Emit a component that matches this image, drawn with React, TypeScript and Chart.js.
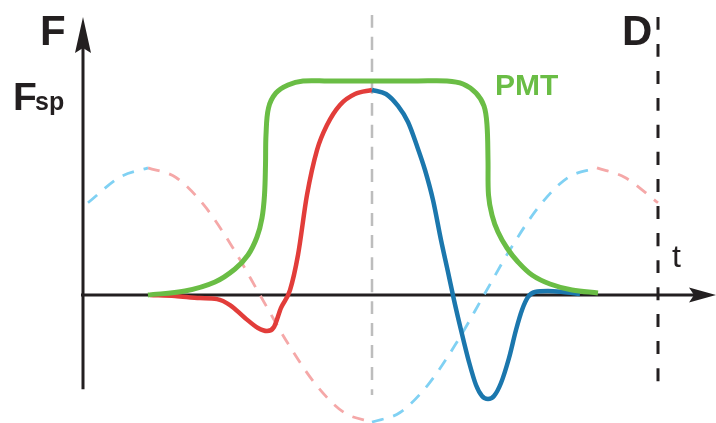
import { useEffect, useRef } from "react";
import { Chart, registerables } from "chart.js";

Chart.register(...registerables);

// time axis (arbitrary units) and signal amplitude (normalised to Fsp = 1)
const T_MIN = -8.3;
const T_MAX = 63.3;
const F_MIN = -0.6244;
const F_MAX = 1.439;

// PMT gate response (green)
const pmtT = [6.5, 10.2, 13.2, 15.2, 16.5, 17.4, 17.9, 18.15, 18.25, 18.3, 18.55, 19.3, 20.5, 22.0, 24.5, 29.0, 33.5, 36.4, 38.0, 39.3, 40.1, 40.4, 40.5, 40.55, 40.9, 41.5, 42.4, 43.5, 44.9, 46.7, 48.9, 51.5];
const pmtF = [0, 0.0195, 0.0634, 0.1268, 0.1951, 0.2829, 0.3756, 0.4878, 0.6341, 0.7805, 0.9122, 0.9854, 1.0244, 1.0439, 1.0439, 1.0439, 1.0439, 1.0439, 1.0293, 0.9854, 0.922, 0.8293, 0.6585, 0.4878, 0.3902, 0.3073, 0.2293, 0.161, 0.0976, 0.0537, 0.0244, 0.0098];

// rising part of the signal (red)
const riseT = [6.7, 9.2, 11.7, 13.4, 14.7, 16.2, 17.5, 18.4, 19.1, 19.8, 20.7, 21.5, 22.4, 23.4, 24.4, 25.7, 27.2, 28.9];
const riseF = [0, -0.005, -0.015, -0.02, -0.049, -0.112, -0.161, -0.176, -0.156, -0.063, 0.024, 0.195, 0.488, 0.707, 0.829, 0.927, 0.98, 1.0];

// falling part of the signal (blue)
const fallT = [28.9, 30.3, 31.5, 32.5, 33.4, 34.2, 35.0, 35.8, 36.5, 37.1, 37.8, 38.6, 39.3, 39.9, 40.5, 41.1, 41.8, 42.6, 43.3, 43.9, 44.5, 45.2, 46.5, 48.0, 49.7];
const fallF = [1.0, 0.9805, 0.922, 0.8439, 0.7268, 0.6098, 0.4634, 0.2683, 0.1122, -0.0244, -0.1707, -0.3268, -0.439, -0.4927, -0.5073, -0.4927, -0.4293, -0.3073, -0.1707, -0.0732, -0.0098, 0.0146, 0.0195, 0.0146, 0.0049];

// reference oscillation (dashed), split into coloured pieces
const oscBlue1T = [0.5, 3.7, 6.5];
const oscBlue1F = [0.45, 0.575, 0.62];
const oscPink1T = [6.5, 9.3, 12.1, 14.9, 17.7, 20.5, 23.3, 26.1, 28.9];
const oscPink1F = [0.62, 0.573, 0.438, 0.237, 0, -0.237, -0.438, -0.573, -0.62];
const oscBlue2T = [28.9, 31.7, 34.5, 37.3, 40.1, 42.9, 45.7, 48.5, 51.4];
const oscBlue2F = [-0.62, -0.573, -0.438, -0.237, 0, 0.237, 0.438, 0.573, 0.62];
const oscPink2T = [51.4, 54.2, 57.5];
const oscPink2F = [0.62, 0.573, 0.45];

// markers
const centerT = 28.9;
const centerRange = [1.366, -0.488];
const detT = 57.5;
const detRange = [1.356, -0.46];
const axisTStart = -0.2;
const axisFBottom = -0.46;
const axisFTop = 1.356;

const pts = (t: number[], f: number[]) => t.map((x, i) => ({ x, y: f[i] }));

const INK = "#231f20";
const GREEN = "#6abd45";
const RED = "#e23d3a";
const BLUE = "#1b77ad";
const PINK = "#f5a8a8";
const SKY = "#80d1f3";

const annotate = {
  id: "annotate",
  beforeDatasetsDraw(chart: any) {
    const { ctx } = chart;
    const xs = chart.scales.x;
    const ys = chart.scales.y;
    const x0 = xs.getPixelForValue(0);
    const y0 = ys.getPixelForValue(0);
    const xStart = xs.getPixelForValue(axisTStart);
    const xTip = xs.getPixelForValue(T_MAX);
    const yBottom = ys.getPixelForValue(axisFBottom);
    const yTip = ys.getPixelForValue(axisFTop);
    ctx.save();
    ctx.strokeStyle = INK;
    ctx.fillStyle = INK;
    ctx.lineWidth = 3;
    ctx.beginPath();
    ctx.moveTo(xStart, y0);
    ctx.lineTo(xTip - 20, y0);
    ctx.stroke();
    ctx.beginPath();
    ctx.moveTo(xTip, y0);
    ctx.lineTo(xTip - 27, y0 - 7.5);
    ctx.lineTo(xTip - 22, y0);
    ctx.lineTo(xTip - 27, y0 + 7.5);
    ctx.closePath();
    ctx.fill();
    ctx.beginPath();
    ctx.moveTo(x0, yBottom);
    ctx.lineTo(x0, yTip + 28);
    ctx.stroke();
    ctx.beginPath();
    ctx.moveTo(x0, yTip);
    ctx.lineTo(x0 - 8, yTip + 36);
    ctx.lineTo(x0, yTip + 31);
    ctx.lineTo(x0 + 8, yTip + 36);
    ctx.closePath();
    ctx.fill();
    ctx.restore();
  },
  afterDatasetsDraw(chart: any) {
    const { ctx } = chart;
    const xs = chart.scales.x;
    const ys = chart.scales.y;
    const x0 = xs.getPixelForValue(0);
    const y0 = ys.getPixelForValue(0);
    const yPeak = ys.getPixelForValue(1);
    const xDet = xs.getPixelForValue(detT);
    ctx.save();
    ctx.textBaseline = "alphabetic";
    ctx.textAlign = "left";
    ctx.fillStyle = INK;
    ctx.font = "bold 42px 'Liberation Sans', Arial, sans-serif";
    ctx.fillText("F", x0 - 43, 45);
    ctx.fillText("D", xDet - 36, 45);
    ctx.font = "bold 39px 'Liberation Sans', Arial, sans-serif";
    ctx.fillText("F", x0 - 70, yPeak + 20);
    ctx.font = "bold 25px 'Liberation Sans', Arial, sans-serif";
    ctx.fillText("sp", x0 - 48, yPeak + 20);
    ctx.font = "32px 'Liberation Sans', Arial, sans-serif";
    ctx.fillText("t", xDet + 14, y0 - 28);
    ctx.fillStyle = GREEN;
    ctx.font = "bold 30px 'Liberation Sans', Arial, sans-serif";
    ctx.fillText("PMT", 495, ys.getPixelForValue(pmtF[13]) + 14);
    ctx.restore();
  },
};

export default function App() {
  const ref = useRef<HTMLCanvasElement | null>(null);
  useEffect(() => {
    document.body.style.margin = "0";
    const canvas = ref.current;
    if (!canvas) return;
    const solid = (data: any, color: string, width: number, smooth: boolean) => ({
      data,
      borderColor: color,
      borderWidth: width,
      pointRadius: 0,
      fill: false,
      tension: smooth ? 0.35 : 0,
      cubicInterpolationMode: smooth ? ("default" as const) : ("monotone" as const),
      borderCapStyle: "butt" as const,
      borderJoinStyle: "round" as const,
    });
    const dashed = (data: any, color: string, width: number, dash: number[]) => ({
      data,
      borderColor: color,
      borderWidth: width,
      borderDash: dash,
      pointRadius: 0,
      fill: false,
      cubicInterpolationMode: "monotone" as const,
    });
    const chart = new Chart(canvas, {
      type: "line",
      data: {
        datasets: [
          solid(pts(pmtT, pmtF), GREEN, 5, true),
          solid(pts(fallT, fallF), BLUE, 4.5, false),
          solid(pts(riseT, riseF), RED, 4.5, false),
          dashed(pts([detT, detT], detRange), INK, 3, [13, 14]),
          dashed(pts([centerT, centerT], centerRange), "#bdbdbd", 2.5, [13, 9]),
          dashed(pts(oscBlue1T, oscBlue1F), SKY, 2.8, [12, 10]),
          dashed(pts(oscPink1T, oscPink1F), PINK, 2.8, [12, 10]),
          dashed(pts(oscBlue2T, oscBlue2F), SKY, 2.8, [12, 10]),
          dashed(pts(oscPink2T, oscPink2F), PINK, 2.8, [12, 10]),
        ],
      },
      options: {
        responsive: false,
        animation: false,
        layout: { padding: 0 },
        plugins: { legend: { display: false }, tooltip: { enabled: false } },
        scales: {
          x: { type: "linear", min: T_MIN, max: T_MAX, display: false },
          y: { type: "linear", min: F_MIN, max: F_MAX, display: false },
        },
      },
      plugins: [annotate],
    });
    return () => chart.destroy();
  }, []);
  return (
    <canvas
      ref={ref}
      width={716}
      height={423}
      style={{ display: "block", width: 716, height: 423 }}
    />
  );
}
